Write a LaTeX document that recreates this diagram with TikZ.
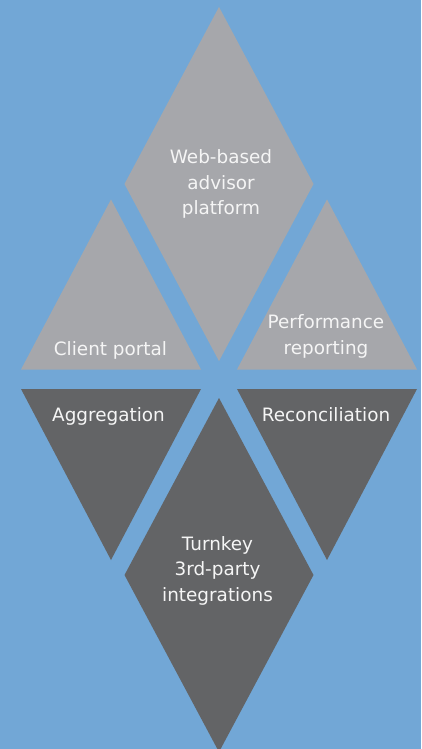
\documentclass[tikz,border=0pt]{standalone}
\usepackage{fontspec}
\setmainfont{DejaVu Sans}
\definecolor{bg}{RGB}{114,167,214}
\definecolor{lgray}{RGB}{166,167,171}
\definecolor{dgray}{RGB}{99,100,102}
\definecolor{txt}{RGB}{245,245,245}
\begin{document}
\begin{tikzpicture}[x=1pt,y=-1pt,
  lbl/.style={text=txt, font=\fontsize{18.4}{25.5}\selectfont, align=center, inner sep=0pt}]
\useasboundingbox (0,0) rectangle (421,749);
\fill[bg] (0,0) rectangle (421,749);
\begin{scope}
\clip (0,0) rectangle (421,749);
% top diamond
\fill[lgray] (219,7) -- (313.5,184) -- (219,361) -- (124.5,184) -- cycle;
% upward triangles
\fill[lgray] (21,369.5) -- (111,199.5) -- (201,369.5) -- cycle;
\fill[lgray] (237,369.5) -- (327,199.5) -- (417,369.5) -- cycle;
% downward triangles
\fill[dgray] (21,389) -- (201,389) -- (111,560) -- cycle;
\fill[dgray] (237,389) -- (417,389) -- (327,560) -- cycle;
% bottom diamond
\fill[dgray] (219,398) -- (313.5,575) -- (219,752) -- (124.5,575) -- cycle;
\end{scope}
\node[lbl] (web) at (221,184) {Web-based\\advisor\\platform};
\node[lbl, anchor=base] (client) at (110.5,355) {Client portal};
\node[lbl] (perf) at (326,336.5) {Performance\\reporting};
\node[lbl, anchor=base] (aggr) at (108.5,421.7) {Aggregation};
\node[lbl, anchor=base] (recon) at (326,421.7) {Reconciliation};
\node[lbl] (turn) at (217.5,570.7) {Turnkey\\3rd-party\\integrations};
\end{tikzpicture}
\end{document}
